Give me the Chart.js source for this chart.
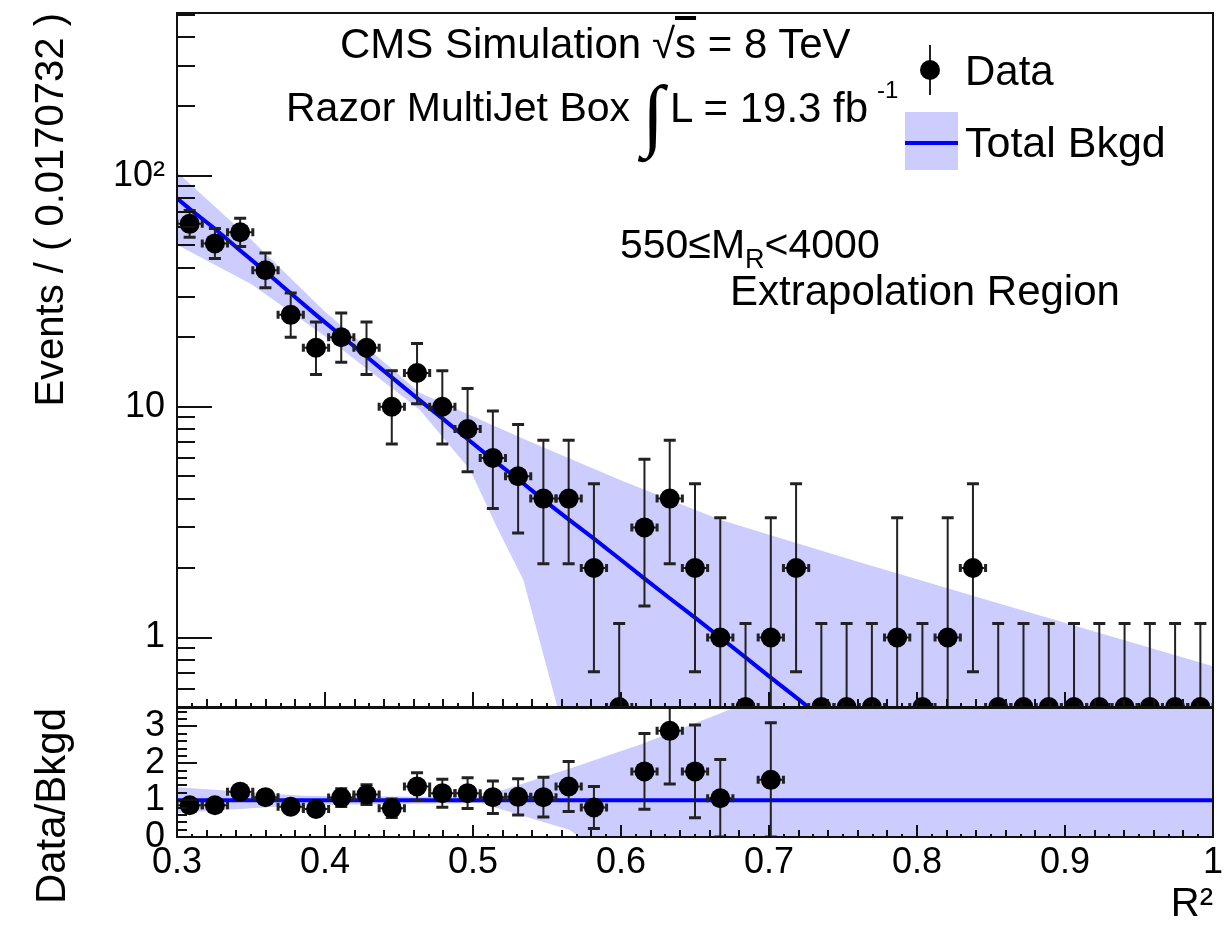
<!DOCTYPE html>
<html>
<head>
<meta charset="utf-8">
<title>Razor MultiJet Box – R² extrapolation region</title>
<script src="https://cdn.jsdelivr.net/npm/chart.js@4.4.1/dist/chart.umd.min.js"></script>
<style>
  html, body { margin:0; padding:0; background:#fff; }
  #wrap { position:relative; width:1230px; height:937px; overflow:hidden;
          font-family:"Liberation Sans", Arial, Helvetica, sans-serif; color:#000; }
  #wrap canvas { position:absolute; left:0; top:0; }
  .lbl { position:absolute; white-space:nowrap; line-height:1; z-index:5; }
</style>
</head>
<body>
<div id="wrap">
  <canvas id="mainChart" width="1230" height="937"></canvas>
  <canvas id="ratioChart" width="1230" height="937"></canvas>

  <div class="lbl" style="left:340px;top:23px;font-size:42px;">CMS Simulation</div>
  <div class="lbl" style="left:652px;top:23px;font-size:42px;">√<span style="text-decoration:overline;">s</span> = 8 TeV</div>
  <div class="lbl" style="left:286px;top:87px;font-size:41px;">Razor MultiJet Box</div>
  <div class="lbl" style="left:642px;top:74px;font-size:80px;font-family:'Liberation Serif',serif;font-style:italic;">∫</div>
  <div class="lbl" style="left:670px;top:87px;font-size:42px;">L = 19.3 fb</div>
  <div class="lbl" style="left:877px;top:78px;font-size:24px;">-1</div>
  <div class="lbl" style="left:965px;top:50px;font-size:42px;">Data</div>
  <div class="lbl" style="left:965px;top:121px;font-size:43px;">Total Bkgd</div>
  <div class="lbl" style="left:620px;top:224px;font-size:41px;">550≤M<span style="font-size:27px;position:relative;top:10px;">R</span>&lt;4000</div>
  <div class="lbl" style="left:730px;top:270px;font-size:42px;">Extrapolation Region</div>
</div>

<script>
// ===================== DATA =====================
const X_MIN = 0.3;
const X_MAX = 1.0;
const BIN_WIDTH = 0.0170732;

// Observed event counts per R² bin (41 bins)
const counts = [62, 51, 57, 39, 25, 18, 20, 18, 10, 14,
                10,  8,  6,  5,  4,  4,  2,  0,  3,  4,
                 2,  1,  0,  1,  2,  0,  0,  0,  1,  0,
                 1,  2,  0,  0,  0,  0,  0,  0,  0,  0, 0];
// Poisson (asymmetric) error bar ends
const countErrLow  = [54.2, 43.9, 49.5, 32.8, 20.0, 13.8, 15.6, 13.8, 6.89, 10.3,
                      6.89, 5.23, 3.62, 2.84, 2.09, 2.09, 0.71, 0,    1.37, 2.09,
                      0.71, 0.17, 0,    0.17, 0.71, 0,    0,    0,    0.17, 0,
                      0.17, 0.71, 0,    0,    0,    0,    0,    0,    0,    0,   0];
const countErrHigh = [70.9, 59.2, 65.6, 46.3, 31.1, 23.3, 25.5, 23.3, 14.3, 18.8,
                      14.3, 12.0, 9.58, 8.38, 7.16, 7.16, 4.64, 1.15, 5.92, 7.16,
                      4.64, 3.30, 1.15, 3.30, 4.64, 1.15, 1.15, 1.15, 3.30, 1.15,
                      3.30, 4.64, 1.15, 1.15, 1.15, 1.15, 1.15, 1.15, 1.15, 1.15, 1.15];

// Total background fit curve
const bkgdFitX = [0.3000, 0.3085, 0.3256, 0.3427, 0.3598, 0.3768, 0.3939, 0.4110, 0.4280,
                  0.4451, 0.4622, 0.4793, 0.4963, 0.5134, 0.5305, 0.5476, 0.5646, 0.5817,
                  0.5988, 0.6159, 0.6329, 0.6500, 0.6671, 0.6841, 0.7012, 0.7183, 0.7354];
const bkgdFitY = [80, 72, 59, 47.5, 38.5, 31, 25, 20.3, 16.5,
                  13.4, 10.9, 8.9, 7.25, 5.9, 4.85, 3.95, 3.25, 2.68,
                  2.2, 1.8, 1.48, 1.22, 1.0, 0.82, 0.67, 0.55, 0.45];

// Background uncertainty band (upper and lower edges)
const bandUpX = [0.300, 0.350, 0.400, 0.464, 0.532, 0.599, 0.667, 0.755, 0.856, 1.000];
const bandUpY = [104,   53,    25.8,  11.5,  7.35,  4.82,  3.24,  2.18,  1.40,  0.75];
const bandLoX = [0.300, 0.350, 0.400, 0.464, 0.498, 0.516, 0.534, 0.557, 0.565, 1.000];
const bandLoY = [50.3,  34,    20.2,  9.7,   5.33,  3.02,  1.78,  0.50,  0.30,  0.30];

// Ratio panel: Data / Bkgd with symmetric errors
const ratio    = [0.86, 0.86, 1.23, 1.08, 0.82, 0.76, 1.07, 1.15, 0.78, 1.37,
                  1.19, 1.19, 1.08, 1.09, 1.08, 1.37, 0.80, null, 1.78, 2.88,
                  1.78, 1.05, null, 1.55, null, null, null, null, null, null,
                  null, null, null, null, null, null, null, null, null, null, null];
const ratioErr = [0.11, 0.12, 0.16, 0.17, 0.16, 0.18, 0.24, 0.27, 0.25, 0.37,
                  0.38, 0.42, 0.44, 0.49, 0.54, 0.68, 0.57, null, 1.03, 1.44,
                  1.26, 1.05, null, 1.55, null, null, null, null, null, null,
                  null, null, null, null, null, null, null, null, null, null, null];
const ratioBandUpX = [0.300, 0.385, 0.505, 0.5655, 0.615, 0.672, 0.700, 1.000];
const ratioBandUpY = [1.35,  1.12,  1.08,  1.86,   2.54,  3.43,  3.9,   3.9];
const ratioBandLoX = [0.300, 0.385, 0.505, 0.5655, 0.575, 1.000];
const ratioBandLoY = [0.65,  0.87,  0.92,  0.19,   -0.1,  -0.1];
const ratioRefX = [0.3, 1.0];
const ratioRefY = [1, 1];

// Tick labels
const X_TICKS = [0.3, 0.4, 0.5, 0.6, 0.7, 0.8, 0.9, 1.0];
const Y_TICKS_MAIN = [1, 10, 100];
const Y_TICK_LABELS_MAIN = ['1', '10', '10²'];
const Y_TICKS_RATIO = [0, 1, 2, 3];

// ===================== STYLE / HELPERS =====================
const Y_MIN = 0.5, Y_MAX = 508;
const R_MIN = 0, R_MAX = 3.5;
const BAND_COLOR = 'rgb(204,204,255)';
const LINE_COLOR = '#0000ff';
const FONT = "'Liberation Sans', Arial, Helvetica, sans-serif";

Chart.defaults.font.family = FONT;
Chart.defaults.color = '#000';
Chart.defaults.animation = false;

const centers = counts.map((_, i) => X_MIN + (i + 0.5) * BIN_WIDTH);
const xy = (xs, ys) => xs.map((x, i) => ({x, y: ys[i]}));
function polygon(upX, upY, loX, loY) {
  const pts = xy(upX, upY);
  for (let i = loX.length - 1; i >= 0; i--) pts.push({x: loX[i], y: loY[i]});
  return pts;
}
function fixedBox(w, h) {
  return s => {
    if (w !== null) s.width = w;
    if (h !== null) s.height = h;
    s.paddingTop = 0; s.paddingBottom = 0; s.paddingLeft = 0; s.paddingRight = 0;
  };
}

// tick mark lists (ROOT style, drawn inside the frame)
function xTickList(maj, min, tiny) {
  const out = [];
  for (let k = 0; k <= 70; k++) {
    out.push({v: X_MIN + k * 0.01, len: k % 10 === 0 ? maj : (k % 2 === 0 ? min : tiny)});
  }
  return out;
}
function logTickList() {
  const out = [];
  for (const d of [0.1, 1, 10, 100]) {
    for (let m = 1; m <= 9; m++) {
      const v = m * d;
      if (v >= Y_MIN - 1e-9 && v <= Y_MAX) out.push({v, len: m === 1 ? 35 : 18});
    }
  }
  return out;
}
function ratioTickList() {
  const out = [];
  for (let k = 0; k * 0.2 <= R_MAX + 1e-9; k++) out.push({v: k * 0.2, len: k % 5 === 0 ? 20 : 10});
  return out;
}

const rootAxes = {
  id: 'rootAxes',
  afterDatasetsDraw(chart, args, o) {
    const {ctx, chartArea: a} = chart;
    const xs = chart.scales.x, ys = chart.scales.y;
    ctx.save();
    ctx.strokeStyle = '#111';
    ctx.lineWidth = 2;
    ctx.beginPath();
    for (const t of o.xTicks) {
      const px = Math.round(xs.getPixelForValue(t.v));
      ctx.moveTo(px, a.bottom); ctx.lineTo(px, a.bottom - t.len);
    }
    for (const t of o.yTicks) {
      const py = Math.round(ys.getPixelForValue(t.v));
      ctx.moveTo(a.left, py); ctx.lineTo(a.left + t.len, py);
    }
    ctx.stroke();
    ctx.strokeRect(a.left, a.top, a.right - a.left, a.bottom - a.top);
    ctx.restore();
  }
};

const errBars = {
  id: 'errBars',
  beforeDatasetDraw(chart, args) {
    const ds = chart.data.datasets[args.index];
    if (!ds.errLow) return;
    const {ctx, chartArea: a} = chart;
    const xs = chart.scales.x, ys = chart.scales.y;
    ctx.save();
    ctx.beginPath();
    ctx.rect(a.left, a.top, a.right - a.left, a.bottom - a.top);
    ctx.clip();
    ctx.strokeStyle = '#222';
    ds.data.forEach((p, i) => {
      if (!p || p.y === null || ds.errLow[i] === null) return;
      const px = xs.getPixelForValue(p.x), py = ys.getPixelForValue(p.y);
      const lo = ds.errLow[i], hi = ds.errHigh[i];
      const pyLo = lo > 0 || !ds.logY ? ys.getPixelForValue(lo) : a.bottom + 5;
      const pyHi = ys.getPixelForValue(hi);
      const pxL = xs.getPixelForValue(p.x - BIN_WIDTH / 2);
      const pxR = xs.getPixelForValue(p.x + BIN_WIDTH / 2);
      ctx.lineWidth = 2;
      ctx.beginPath();
      ctx.moveTo(px, pyLo); ctx.lineTo(px, pyHi);
      ctx.moveTo(pxL, py); ctx.lineTo(pxR, py);
      ctx.stroke();
      ctx.lineWidth = 3;
      ctx.beginPath();
      ctx.moveTo(px - 6, pyHi); ctx.lineTo(px + 6, pyHi);
      ctx.moveTo(px - 6, pyLo); ctx.lineTo(px + 6, pyLo);
      ctx.moveTo(pxL, py - 4); ctx.lineTo(pxL, py + 4);
      ctx.moveTo(pxR, py - 4); ctx.lineTo(pxR, py + 4);
      ctx.stroke();
    });
    ctx.restore();
  }
};

const legendGlyphs = {
  id: 'legendGlyphs',
  afterDraw(chart) {
    const ctx = chart.ctx;
    ctx.save();
    ctx.fillStyle = BAND_COLOR;
    ctx.fillRect(905, 112, 53, 58);
    ctx.strokeStyle = LINE_COLOR; ctx.lineWidth = 4;
    ctx.beginPath(); ctx.moveTo(905, 143); ctx.lineTo(958, 143); ctx.stroke();
    ctx.strokeStyle = '#222'; ctx.lineWidth = 2;
    ctx.beginPath(); ctx.moveTo(930, 45); ctx.lineTo(930, 95); ctx.stroke();
    ctx.fillStyle = '#000';
    ctx.beginPath(); ctx.arc(930, 70, 10, 0, Math.PI * 2); ctx.fill();
    ctx.restore();
  }
};

// ===================== MAIN PANEL =====================
new Chart(document.getElementById('mainChart'), {
  type: 'line',
  data: {
    datasets: [
      {
        label: 'Data',
        data: counts.map((c, i) => ({x: centers[i], y: c > 0 ? c : Y_MIN})),
        errLow: countErrLow, errHigh: countErrHigh, logY: true,
        showLine: false, pointRadius: 10, pointHoverRadius: 10,
        pointBackgroundColor: '#000', pointBorderWidth: 0, pointBorderColor: '#000',
        clip: 0, order: 0
      },
      {
        label: 'Total Bkgd',
        data: xy(bkgdFitX, bkgdFitY),
        borderColor: LINE_COLOR, borderWidth: 4, pointRadius: 0, fill: false,
        clip: 0, order: 1
      },
      {
        label: 'Bkgd uncertainty',
        data: polygon(bandUpX, bandUpY, bandLoX, bandLoY),
        borderWidth: 0, borderColor: 'rgba(0,0,0,0)', backgroundColor: BAND_COLOR,
        pointRadius: 0, fill: 'shape', clip: 0, order: 2
      }
    ]
  },
  options: {
    responsive: false, events: [],
    layout: { autoPadding: false, padding: {top: 13, right: 17, bottom: 230, left: 0} },
    plugins: {
      legend: {display: false}, tooltip: {enabled: false},
      rootAxes: { xTicks: xTickList(15, 8, 4), yTicks: logTickList() }
    },
    scales: {
      x: { type: 'linear', min: X_MIN, max: X_MAX, display: false },
      y: {
        type: 'logarithmic', min: Y_MIN, max: Y_MAX,
        afterFit: fixedBox(177, null),
        afterBuildTicks: s => { s.ticks = Y_TICKS_MAIN.map(v => ({value: v, major: true})); },
        ticks: {
          font: {size: 36}, color: '#000', padding: 12, autoSkip: false,
          callback: v => { const k = Y_TICKS_MAIN.indexOf(v); return k >= 0 ? Y_TICK_LABELS_MAIN[k] : ''; }
        },
        grid: {display: false, drawTicks: false},
        border: {display: false},
        title: { display: true, text: 'Events / ( 0.0170732 )', align: 'end', color: '#000',
                 font: {size: 40, lineHeight: 1.2}, padding: {top: 28, bottom: 0} }
      }
    }
  },
  plugins: [errBars, rootAxes, legendGlyphs]
});

// ===================== RATIO PANEL =====================
const ratioPts = ratio.map((r, i) => (r === null ? null : {x: centers[i], y: r}));
new Chart(document.getElementById('ratioChart'), {
  type: 'line',
  data: {
    datasets: [
      {
        label: 'Data/Bkgd',
        data: ratioPts.filter(p => p !== null),
        errLow: ratio.map((r, i) => r === null ? null : r - ratioErr[i]).filter(v => v !== null),
        errHigh: ratio.map((r, i) => r === null ? null : r + ratioErr[i]).filter(v => v !== null),
        logY: false,
        showLine: false, pointRadius: 10, pointBackgroundColor: '#000', pointBorderWidth: 0,
        clip: 0, order: 0
      },
      {
        label: 'Reference',
        data: xy(ratioRefX, ratioRefY),
        borderColor: LINE_COLOR, borderWidth: 4, pointRadius: 0, fill: false,
        clip: 0, order: 1
      },
      {
        label: 'Bkgd uncertainty',
        data: polygon(ratioBandUpX, ratioBandUpY, ratioBandLoX, ratioBandLoY),
        borderWidth: 0, borderColor: 'rgba(0,0,0,0)', backgroundColor: BAND_COLOR,
        pointRadius: 0, fill: 'shape', clip: 0, order: 2
      }
    ]
  },
  options: {
    responsive: false, events: [],
    layout: { autoPadding: false, padding: {top: 708, right: 17, bottom: 0, left: 0} },
    plugins: {
      legend: {display: false}, tooltip: {enabled: false},
      rootAxes: { xTicks: xTickList(12, 7, 3), yTicks: ratioTickList() }
    },
    scales: {
      x: {
        type: 'linear', min: X_MIN, max: X_MAX,
        afterFit: fixedBox(null, 100),
        afterBuildTicks: s => { s.ticks = X_TICKS.map(v => ({value: v})); },
        ticks: { font: {size: 36}, color: '#000', padding: 4, autoSkip: false, maxRotation: 0,
                 callback: v => String(+Number(v).toFixed(1)) },
        grid: {display: false, drawTicks: false},
        border: {display: false},
        title: { display: true, text: 'R²', align: 'end', color: '#000',
                 font: {size: 40, lineHeight: 1.2}, padding: {top: 0, bottom: 8} }
      },
      y: {
        type: 'linear', min: R_MIN, max: R_MAX,
        afterFit: fixedBox(177, null),
        afterBuildTicks: s => { s.ticks = Y_TICKS_RATIO.map(v => ({value: v})); },
        ticks: { font: {size: 36}, color: '#000', padding: 12, autoSkip: false,
                 callback: v => String(v) },
        grid: {display: false, drawTicks: false},
        border: {display: false},
        title: { display: true, text: 'Data/Bkgd', align: 'end', color: '#000',
                 font: {size: 42, lineHeight: 1.2}, padding: {top: 28, bottom: 0} }
      }
    }
  },
  plugins: [errBars, rootAxes]
});
</script>
</body>
</html>
